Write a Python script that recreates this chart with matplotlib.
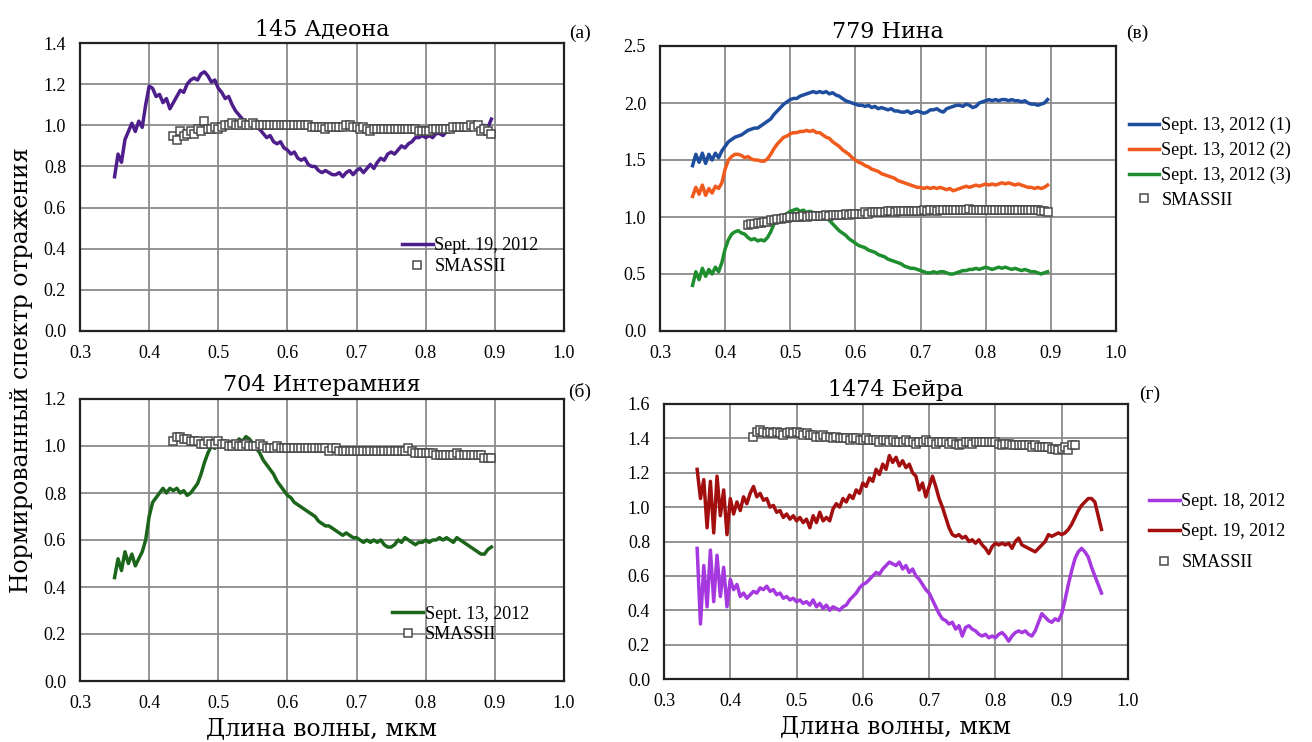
import numpy as np
import matplotlib
matplotlib.use("Agg")
import matplotlib.pyplot as plt

# ---------------- data ----------------
a_x0, b_x0, c_x0, d_x0 = 0.35, 0.35, 0.35, 0.35
step = 0.005
smass_x0 = 0.435

a_sept19 = [
    0.75, 0.86, 0.82, 0.93, 0.97, 1.01, 0.97, 1.02, 0.99, 1.10,
    1.19, 1.18, 1.14, 1.15, 1.11, 1.13, 1.08, 1.11, 1.14, 1.17,
    1.16, 1.20, 1.22, 1.23, 1.22, 1.25, 1.26, 1.24, 1.21, 1.22,
    1.18, 1.16, 1.13, 1.14, 1.10, 1.07, 1.05, 1.03, 1.02, 1.00,
    1.00, 0.99, 0.98, 0.96, 0.94, 0.95, 0.92, 0.91, 0.92, 0.89,
    0.88, 0.86, 0.87, 0.84, 0.83, 0.84, 0.81, 0.80, 0.80, 0.78,
    0.77, 0.78, 0.77, 0.76, 0.76, 0.77, 0.75, 0.77, 0.78, 0.76,
    0.78, 0.79, 0.77, 0.79, 0.81, 0.79, 0.82, 0.84, 0.83, 0.86,
    0.87, 0.86, 0.88, 0.90, 0.89, 0.91, 0.92, 0.94, 0.94, 0.95,
    0.94, 0.95, 0.94, 0.96, 0.96, 0.95, 0.97, 0.98, 0.97, 0.99,
    0.98, 0.99, 1.00, 0.99, 1.00, 0.98, 0.99, 1.00, 0.99, 1.03,
]
a_smass = [
    0.95, 0.93, 0.97, 0.95, 0.96, 0.97, 0.96, 0.98, 0.97, 1.02, 0.98, 0.98, 0.99,
    0.98, 0.99, 1.00, 1.00, 1.01, 1.00, 1.00, 1.01, 1.00, 1.00, 1.01, 1.00, 1.00, 1.00, 1.00, 1.00, 1.00, 1.00, 1.00, 1.00,
    1.00, 1.00, 1.00, 1.00, 1.00, 1.00, 1.00, 0.99, 0.99, 0.99, 0.99, 0.98, 0.99, 0.99, 0.99, 0.99, 0.99, 1.00, 1.00, 0.99,
    0.99, 0.98, 0.99, 0.98, 0.97, 0.98, 0.98, 0.98, 0.98, 0.98, 0.98, 0.98, 0.98, 0.98, 0.98, 0.98, 0.98, 0.98, 0.97, 0.97,
    0.97, 0.97, 0.98, 0.98, 0.98, 0.98, 0.98, 0.98, 0.99, 0.99, 0.99, 0.99, 0.99, 1.00, 0.99, 1.00, 0.97, 0.98, 0.97, 0.96,
]

b_sept13_1 = [
    1.45, 1.55, 1.48, 1.56, 1.47, 1.55, 1.50, 1.56, 1.52, 1.58,
    1.62, 1.66, 1.68, 1.70, 1.71, 1.72, 1.74, 1.76, 1.77, 1.78,
    1.78, 1.80, 1.82, 1.84, 1.86, 1.90, 1.93, 1.96, 1.99, 2.01,
    2.03, 2.04, 2.04, 2.06, 2.07, 2.08, 2.09, 2.10, 2.09, 2.10,
    2.09, 2.10, 2.08, 2.09, 2.07, 2.06, 2.04, 2.02, 2.01, 2.00,
    1.99, 1.98, 1.98, 1.97, 1.98, 1.96, 1.97, 1.95, 1.96, 1.95,
    1.94, 1.95, 1.93, 1.93, 1.92, 1.92, 1.93, 1.91, 1.92, 1.93,
    1.92, 1.91, 1.92, 1.94, 1.94, 1.95, 1.93, 1.92, 1.95, 1.96,
    1.97, 1.98, 1.98, 1.97, 1.99, 1.98, 1.96, 1.97, 2.00, 2.01,
    2.02, 2.03, 2.02, 2.03, 2.02, 2.03, 2.03, 2.02, 2.03, 2.02,
    2.02, 2.01, 2.02, 2.00, 1.99, 1.99, 1.98, 1.99, 2.00, 2.03,
]
b_sept13_2 = [
    1.18, 1.26, 1.20, 1.28, 1.19, 1.25, 1.21, 1.27, 1.25, 1.30,
    1.42, 1.50, 1.53, 1.55, 1.55, 1.54, 1.52, 1.53, 1.51, 1.50,
    1.50, 1.49, 1.49, 1.51, 1.55, 1.60, 1.64, 1.67, 1.70, 1.71,
    1.73, 1.74, 1.74, 1.75, 1.75, 1.76, 1.75, 1.76, 1.74, 1.74,
    1.72, 1.70, 1.69, 1.66, 1.64, 1.62, 1.59, 1.57, 1.55, 1.52,
    1.50, 1.48, 1.47, 1.45, 1.44, 1.42, 1.41, 1.40, 1.38, 1.37,
    1.36, 1.35, 1.34, 1.32, 1.31, 1.30, 1.29, 1.28, 1.27, 1.26,
    1.26, 1.25, 1.26, 1.25, 1.26, 1.25, 1.26, 1.25, 1.24, 1.25,
    1.23, 1.24, 1.25, 1.26, 1.27, 1.26, 1.27, 1.28, 1.27, 1.28,
    1.29, 1.28, 1.29, 1.28, 1.29, 1.30, 1.29, 1.30, 1.29, 1.28,
    1.29, 1.28, 1.27, 1.26, 1.26, 1.25, 1.26, 1.25, 1.26, 1.28,
]
b_sept13_3 = [
    0.40, 0.52, 0.45, 0.55, 0.48, 0.54, 0.50, 0.56, 0.52, 0.60,
    0.72, 0.80, 0.85, 0.87, 0.88, 0.86, 0.85, 0.82, 0.80, 0.81,
    0.79, 0.80, 0.79, 0.82, 0.87, 0.94, 0.98, 1.00, 1.01, 1.03,
    1.05, 1.06, 1.07, 1.05, 1.06, 1.04, 1.05, 1.04, 1.03, 1.02,
    1.01, 0.99, 0.97, 0.94, 0.91, 0.88, 0.86, 0.84, 0.81, 0.79,
    0.77, 0.75, 0.74, 0.73, 0.71, 0.70, 0.69, 0.67, 0.66, 0.65,
    0.63, 0.62, 0.61, 0.60, 0.59, 0.57, 0.56, 0.55, 0.55, 0.54,
    0.53, 0.52, 0.51, 0.51, 0.52, 0.51, 0.52, 0.52, 0.51, 0.50,
    0.50, 0.51, 0.52, 0.53, 0.53, 0.54, 0.54, 0.55, 0.54, 0.55,
    0.56, 0.55, 0.54, 0.55, 0.56, 0.55, 0.56, 0.55, 0.54, 0.55,
    0.54, 0.53, 0.54, 0.53, 0.52, 0.52, 0.51, 0.50, 0.51, 0.52,
]
b_smass = [
    0.93, 0.94, 0.94, 0.95, 0.95, 0.96, 0.96, 0.97, 0.97, 0.98, 0.98, 0.99, 0.99, 1.00,
    1.00, 1.00, 1.00, 1.01, 1.00, 1.01, 1.01, 1.01, 1.01, 1.01, 1.02, 1.01, 1.02, 1.02, 1.02, 1.02, 1.03, 1.02, 1.03, 1.03,
    1.03, 1.03, 1.04, 1.03, 1.04, 1.04, 1.04, 1.04, 1.04, 1.05, 1.05, 1.04, 1.05, 1.05, 1.05, 1.05, 1.05, 1.05, 1.05, 1.05,
    1.06, 1.05, 1.06, 1.06, 1.05, 1.06, 1.06, 1.06, 1.06, 1.06, 1.06, 1.06, 1.06, 1.06, 1.07, 1.06, 1.06, 1.06, 1.06, 1.06,
    1.06, 1.06, 1.06, 1.06, 1.06, 1.06, 1.06, 1.06, 1.06, 1.06, 1.06, 1.06, 1.06, 1.06, 1.06, 1.06, 1.05, 1.05, 1.04,
]

c_sept13 = [
    0.44, 0.52, 0.47, 0.55, 0.50, 0.54, 0.49, 0.52, 0.55, 0.60,
    0.70, 0.76, 0.78, 0.80, 0.82, 0.80, 0.82, 0.81, 0.82, 0.80,
    0.81, 0.79, 0.80, 0.82, 0.84, 0.88, 0.93, 0.97, 1.00, 0.99,
    1.01, 1.00, 1.02, 1.01, 1.02, 1.01, 1.03, 1.02, 1.04, 1.03,
    1.01, 0.99, 0.97, 0.94, 0.92, 0.90, 0.88, 0.85, 0.83, 0.81,
    0.79, 0.78, 0.76, 0.75, 0.74, 0.73, 0.72, 0.71, 0.70, 0.68,
    0.67, 0.66, 0.66, 0.65, 0.64, 0.63, 0.62, 0.63, 0.62, 0.61,
    0.61, 0.60, 0.59, 0.60, 0.59, 0.60, 0.59, 0.60, 0.58, 0.57,
    0.57, 0.58, 0.60, 0.59, 0.61, 0.60, 0.59, 0.58, 0.59, 0.59,
    0.60, 0.59, 0.60, 0.60, 0.61, 0.60, 0.61, 0.60, 0.59, 0.61,
    0.60, 0.59, 0.58, 0.57, 0.56, 0.55, 0.54, 0.54, 0.56, 0.57,
]
c_smass = [
    1.02, 1.04, 1.04, 1.03, 1.03, 1.02, 1.02, 1.02, 1.01, 1.01, 1.02, 1.01, 1.01, 1.02,
    1.01, 1.01, 1.00, 1.00, 1.01, 1.00, 1.00, 1.01, 1.00, 1.00, 1.00, 1.01, 1.00, 0.99, 0.99, 0.99, 1.00, 0.99, 0.99, 0.99,
    0.99, 0.99, 0.99, 0.99, 0.99, 0.99, 0.99, 0.99, 0.99, 0.99, 0.99, 0.98, 0.99, 0.99, 0.98, 0.98, 0.98, 0.98, 0.98, 0.98,
    0.98, 0.98, 0.98, 0.98, 0.98, 0.98, 0.98, 0.98, 0.98, 0.98, 0.98, 0.98, 0.98, 0.98, 0.99, 0.98, 0.97, 0.97, 0.97, 0.97,
    0.97, 0.97, 0.96, 0.96, 0.96, 0.96, 0.96, 0.96, 0.97, 0.96, 0.96, 0.96, 0.96, 0.96, 0.96, 0.96, 0.95, 0.95, 0.95,
]

d_sept18 = [
    0.76, 0.32, 0.66, 0.42, 0.75, 0.45, 0.72, 0.48, 0.65, 0.42,
    0.58, 0.52, 0.55, 0.48, 0.50, 0.47, 0.49, 0.51, 0.50, 0.53, 0.52, 0.54, 0.51, 0.52, 0.49, 0.50, 0.47, 0.48, 0.46, 0.47,
    0.45, 0.46, 0.44, 0.45, 0.43, 0.46, 0.42, 0.44, 0.41, 0.43, 0.40, 0.42, 0.41, 0.40, 0.42, 0.43, 0.46, 0.48, 0.50, 0.53,
    0.55, 0.56, 0.58, 0.60, 0.62, 0.61, 0.64, 0.66, 0.68, 0.67, 0.66, 0.68, 0.64, 0.66, 0.62, 0.64, 0.60, 0.58, 0.55, 0.52,
    0.50, 0.46, 0.42, 0.38, 0.35, 0.34, 0.32, 0.33, 0.29, 0.31, 0.25, 0.30, 0.31, 0.29, 0.28, 0.26, 0.25, 0.26, 0.24, 0.25,
    0.24, 0.26, 0.27, 0.25, 0.22, 0.25, 0.27, 0.28, 0.27, 0.28, 0.26, 0.25, 0.28, 0.33, 0.38, 0.36, 0.34, 0.33, 0.35, 0.34,
    0.38, 0.46, 0.55, 0.63, 0.70, 0.74, 0.76, 0.74, 0.71, 0.65, 0.60, 0.55, 0.50,
]
d_sept19 = [
    1.22, 1.05, 1.16, 0.88, 1.15, 0.85, 1.18, 0.95, 1.10, 0.84,
    1.05, 0.96, 1.03, 0.98, 1.06, 1.02, 1.08, 1.12, 1.06, 1.08, 1.04, 1.05, 1.00, 1.01, 0.97, 0.98, 0.94, 0.96, 0.93, 0.95,
    0.92, 0.94, 0.91, 0.93, 0.88, 0.95, 0.91, 0.97, 0.92, 0.94, 0.92, 0.99, 1.02, 1.00, 1.05, 1.03, 1.07, 1.05, 1.10, 1.08,
    1.14, 1.12, 1.17, 1.15, 1.22, 1.19, 1.25, 1.22, 1.30, 1.26, 1.29, 1.24, 1.27, 1.23, 1.25, 1.20, 1.18, 1.10, 1.14, 1.06,
    1.12, 1.18, 1.12, 1.05, 1.00, 0.94, 0.88, 0.84, 0.83, 0.84, 0.82, 0.83, 0.80, 0.81, 0.79, 0.81, 0.78, 0.76, 0.73, 0.77,
    0.79, 0.78, 0.79, 0.78, 0.79, 0.76, 0.80, 0.82, 0.78, 0.77, 0.76, 0.75, 0.74, 0.76, 0.78, 0.80, 0.84, 0.83, 0.84, 0.85,
    0.84, 0.85, 0.87, 0.90, 0.94, 0.98, 1.01, 1.03, 1.05, 1.05, 1.03, 0.95, 0.87,
]
d_smass = [
    1.41, 1.44, 1.45, 1.44, 1.43, 1.44, 1.43, 1.44, 1.43, 1.42, 1.43, 1.44, 1.43,
    1.44, 1.43, 1.42, 1.43, 1.42, 1.42, 1.41, 1.41, 1.42, 1.41, 1.41, 1.40, 1.41, 1.40, 1.40, 1.40, 1.39, 1.40, 1.40, 1.39,
    1.39, 1.40, 1.39, 1.39, 1.39, 1.38, 1.39, 1.39, 1.38, 1.39, 1.38, 1.38, 1.38, 1.39, 1.38, 1.38, 1.37, 1.38, 1.38, 1.39,
    1.38, 1.38, 1.37, 1.38, 1.38, 1.38, 1.37, 1.38, 1.37, 1.36, 1.37, 1.38, 1.38, 1.37, 1.38, 1.38, 1.38, 1.38, 1.38, 1.38,
    1.38, 1.37, 1.36, 1.37, 1.37, 1.36, 1.36, 1.36, 1.36, 1.36, 1.36, 1.35, 1.36, 1.35, 1.35, 1.35, 1.35, 1.34, 1.34, 1.33,
    1.34, 1.35, 1.33, 1.36, 1.36,
]

titles = ["145 Адеона", "779 Нина", "704 Интерамния", "1474 Бейра"]
corner_labels = ["(a)", "(в)", "(б)", "(г)"]
x_ticks = [0.3, 0.4, 0.5, 0.6, 0.7, 0.8, 0.9, 1.0]
y_ticks_a = [0.0, 0.2, 0.4, 0.6, 0.8, 1.0, 1.2, 1.4]
y_ticks_b = [0.0, 0.5, 1.0, 1.5, 2.0, 2.5]
y_ticks_c = [0.0, 0.2, 0.4, 0.6, 0.8, 1.0, 1.2]
y_ticks_d = [0.0, 0.2, 0.4, 0.6, 0.8, 1.0, 1.2, 1.4, 1.6]
xlabel = "Длина волны, мкм"
ylabel = "Нормированный спектр отражения"


def grid_x(x0, n):
    return np.round(x0 + step * np.arange(n), 4)


# ---------------- figure ----------------
W, H = 1312, 742
fig = plt.figure(figsize=(W / 100, H / 100), dpi=100)
SERIF = ["Liberation Serif", "DejaVu Serif"]
TFONT = ["DejaVu Serif"]


def axbox(l, t, r, b):
    return [l / W, 1 - b / H, (r - l) / W, (b - t) / H]


ax_a = fig.add_axes(axbox(80, 43, 564, 331))
ax_b = fig.add_axes(axbox(660, 46, 1116, 331))
ax_c = fig.add_axes(axbox(80, 399, 564, 681))
ax_d = fig.add_axes(axbox(664, 404, 1128, 679))

SM = dict(ls="none", marker="s", ms=5.5, mfc="white", mec="#4a4a4a", mew=1.1)
LW = 2.5


def style(ax, yt, title, corner, cx, cy):
    ax.set_xlim(0.3, 1.0)
    ax.set_ylim(yt[0], yt[-1])
    ax.set_xticks(x_ticks)
    ax.set_yticks(yt)
    ax.set_xticklabels([f"{v:.1f}" for v in x_ticks], fontfamily=SERIF, fontsize=13)
    ax.set_yticklabels([f"{v:.1f}" for v in yt], fontfamily=SERIF, fontsize=13)
    ax.tick_params(length=0, pad=10)
    ax.grid(True, color="#8a8a8a", lw=1.3)
    ax.set_axisbelow(True)
    for s in ax.spines.values():
        s.set_color("#222222")
        s.set_linewidth(1.6)
    ax.set_title(title, fontfamily=TFONT, fontsize=16, pad=6)
    fig.text(cx / W, 1 - cy / H, corner, fontfamily=SERIF, fontsize=14, ha="center", va="center")


LEG = dict(frameon=False, prop={"family": SERIF, "size": 13}, handlelength=1.7,
           handletextpad=0.1, borderpad=0, borderaxespad=0)

# (a)
ax_a.plot(grid_x(a_x0, len(a_sept19)), a_sept19, color="#4E1F8C", lw=LW, label="Sept. 19, 2012")
ax_a.plot(grid_x(smass_x0, len(a_smass)), a_smass, label="SMASSII", **SM)
style(ax_a, y_ticks_a, titles[0], corner_labels[0], 580, 33)
ax_a.legend(loc="center left", bbox_to_anchor=(0.665, 0.26), labelspacing=0.2, **LEG)

# (в)
ax_b.plot(grid_x(b_x0, len(b_sept13_1)), b_sept13_1, color="#1F4E9E", lw=LW, label="Sept. 13, 2012 (1)")
ax_b.plot(grid_x(b_x0, len(b_sept13_2)), b_sept13_2, color="#F05A1C", lw=LW, label="Sept. 13, 2012 (2)")
ax_b.plot(grid_x(b_x0, len(b_sept13_3)), b_sept13_3, color="#1F8E2E", lw=LW, label="Sept. 13, 2012 (3)")
ax_b.plot(grid_x(smass_x0, len(b_smass)), b_smass, label="SMASSII", **SM)
style(ax_b, y_ticks_b, titles[1], corner_labels[1], 1137, 33)
ax_b.legend(loc="center left", bbox_to_anchor=(1.028, 0.59), labelspacing=0.42, **LEG)

# (б)
ax_c.plot(grid_x(c_x0, len(c_sept13)), c_sept13, color="#1B661B", lw=LW, label="Sept. 13, 2012")
ax_c.plot(grid_x(smass_x0, len(c_smass)), c_smass, label="SMASSII", **SM)
style(ax_c, y_ticks_c, titles[2], corner_labels[2], 580, 392)
ax_c.legend(loc="center left", bbox_to_anchor=(0.645, 0.2), labelspacing=0.2, **LEG)
ax_c.set_xlabel(xlabel, fontfamily=TFONT, fontsize=17, labelpad=4)

# (г)
ax_d.plot(grid_x(d_x0, len(d_sept18)), d_sept18, color="#A638E0", lw=LW, label="Sept. 18, 2012")
ax_d.plot(grid_x(d_x0, len(d_sept19)), d_sept19, color="#A30F0F", lw=LW, label="Sept. 19, 2012")
ax_d.plot(grid_x(smass_x0, len(d_smass)), d_smass, label="SMASSII", **SM)
style(ax_d, y_ticks_d, titles[3], corner_labels[3], 1150, 394)
ax_d.legend(loc="center left", bbox_to_anchor=(1.045, 0.535), labelspacing=0.75, **LEG)
ax_d.set_xlabel(xlabel, fontfamily=TFONT, fontsize=17, labelpad=4)

fig.text(22 / W, 1 - 370 / H, ylabel, fontfamily=TFONT, fontsize=17,
         rotation=90, ha="center", va="center")

fig.savefig("out.png", dpi=100, facecolor="white")
